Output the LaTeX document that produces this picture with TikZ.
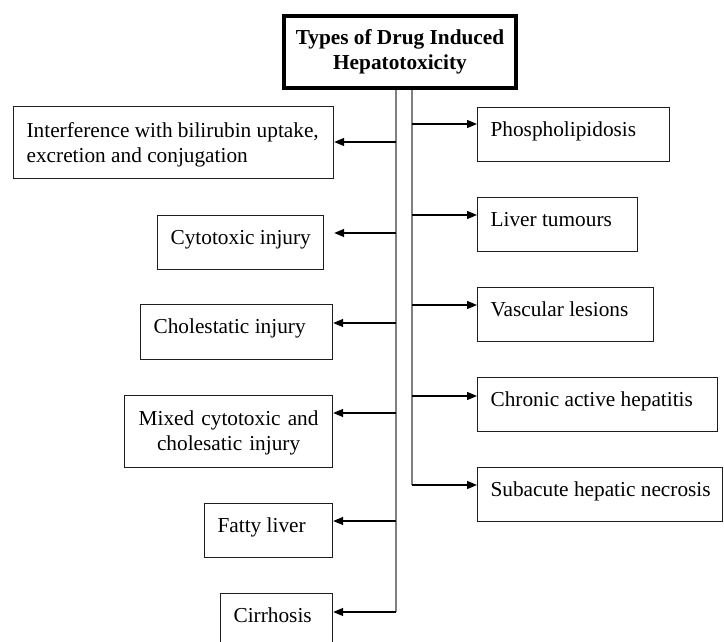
\documentclass[tikz,border=0pt]{standalone}
\usepackage{fontspec}
\setmainfont{Liberation Serif}
\usetikzlibrary{arrows.meta}
\definecolor{128_128_128}{RGB}{128, 128, 128}
\definecolor{30_30_30}{RGB}{30, 30, 30}

\begin{document}
\begin{tikzpicture}[
        x=1pt, y=-1pt,
        every node/.style={font=\fontsize{21.3}{25}\selectfont},
        box/.style={
            draw=30_30_30,
            line width=1.2pt,
            anchor=north west,
            inner xsep=13pt,
            inner ysep=0pt,
            align=flush left,
            text height=29pt,
            text depth=25pt
        },
        headbox/.style={
            draw,
            line width=4pt,
            minimum width=232pt,
            minimum height=72pt,
            align=center,
            font=\fontsize{21.3}{25}\selectfont\bfseries
        },
        spine/.style={draw=128_128_128, line width=1.4pt},
        branch/.style={-{Triangle[length=10pt,width=8pt]}, line width=1.4pt}
    ]
    \useasboundingbox (0,0) rectangle (724,642);

        \node[headbox] (head) at (400,52) {Types of Drug Induced\\Hepatotoxicity};

        % left column
        \node[box, text width=294pt, text height=31pt, text depth=41pt] (bilirubin) at (13,106)
            {\mbox{Interference with bilirubin uptake,}\\\mbox{excretion and conjugation}};
        \node[box, text width=140pt] (cytotoxic) at (157,215) {\mbox{Cytotoxic injury}};
        \node[box, text width=166pt, text depth=26pt] (cholestatic) at (140,304) {\mbox{Cholestatic injury}};
        \node[box, text width=182pt, align=center, text height=30pt, text depth=42pt] (mixed) at (124,395)
            {\mbox{Mixed cytotoxic and}\\\mbox{cholesatic injury}};
        \node[box, text width=102pt] (fatty) at (204,503) {\mbox{Fatty liver}};
        \node[box, text width=86pt] (cirrhosis) at (220,593) {\mbox{Cirrhosis}};

        % right column
        \node[box, text width=166pt] (phospho) at (477,107) {\mbox{Phospholipidosis}};
        \node[box, text width=134pt] (tumours) at (477,197) {\mbox{Liver tumours}};
        \node[box, text width=150pt] (vascular) at (477,287) {\mbox{Vascular lesions}};
        \node[box, text width=214pt] (chronic) at (477,377) {\mbox{Chronic active hepatitis}};
        \node[box, text width=219pt] (subacute) at (477,467) {\mbox{Subacute hepatic necrosis}};

        \coordinate (spineL) at (396,612);
        \coordinate (spineR) at (412,485);
        \draw[spine] (head.south -| spineL) -- (spineL);
        \draw[spine] (head.south -| spineR) -- (spineR);

        \foreach \n/\y/\s in {bilirubin/142/0, cytotoxic/233/10, cholestatic/323/0,
                mixed/413/0, fatty/521/0, cirrhosis/612/0}
            \draw[branch] (spineL |- 0,\y) -- ([xshift=\s pt]\n.east |- 0,\y);
        \foreach \n/\y in {phospho/124, tumours/215, vascular/305, chronic/396, subacute/485}
            \draw[branch] (spineR |- 0,\y) -- (\n.west |- 0,\y);
    \end{tikzpicture}
\end{document}
